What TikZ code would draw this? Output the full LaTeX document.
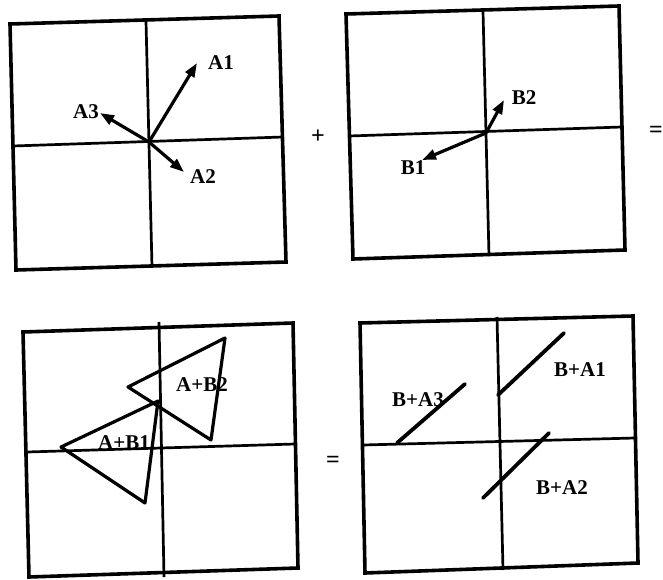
\documentclass[tikz,border=0pt]{standalone}
\usepackage{fontspec}
\setmainfont{Liberation Serif}
\usetikzlibrary{arrows.meta}

\begin{document}
\begin{tikzpicture}[x=1pt, y=-1pt,
            frame/.style={line width=3.6pt, line join=miter},
            axis/.style={line width=2.7pt},
            vec/.style={-{Triangle[length=14pt,width=10pt]}, line width=3.2pt},
            seg/.style={line width=3.8pt, line cap=round},
            tri/.style={line width=3.2pt, line join=round},
            lbl/.style={font=\fontsize{21}{23}\selectfont\bfseries, inner sep=0pt},
            op/.style={font=\fontsize{24}{26}\selectfont\bfseries, inner sep=0pt}
        ]
            \useasboundingbox (0,0) rectangle (663,580);

            % Vectors A (top left)
            \draw[frame] (10,24) -- (279,16) -- (286,262) -- (16,270) -- cycle;
            \draw[axis] (146,21) -- (152,267);
            \draw[axis] (13,146) -- (283,137);
            \coordinate (oa) at (149,142);
            \coordinate (a1) at (197,63);
            \coordinate (a2) at (184,172);
            \coordinate (a3) at (100,113);
            \draw[vec] (oa) -- (a1);
            \draw[vec] (oa) -- (a2);
            \draw[vec] (oa) -- (a3);
            \node[lbl] (la1) at (221,63) {A1};
            \node[lbl] (la2) at (203,177) {A2};
            \node[lbl] (la3) at (86,112) {A3};

            \node[op] (plus) at (318,137) {+};

            % Vectors B (top right)
            \draw[frame] (346,14) -- (619,6) -- (625,250) -- (353,259) -- cycle;
            \draw[axis] (483,11) -- (489,256);
            \draw[axis] (349,136) -- (622,127);
            \coordinate (ob) at (486,133);
            \coordinate (b1) at (422,160);
            \coordinate (b2) at (504,100);
            \draw[vec] (ob) -- (b1);
            \draw[vec] (ob) -- (b2);
            \node[lbl] (lb1) at (413,168) {B1};
            \node[lbl] (lb2) at (524,98) {B2};

            \node[op] (eqa) at (656,132) {=};

            % A shifted by B (bottom left)
            \draw[frame] (23,332) -- (293,323) -- (298,568) -- (29,577) -- cycle;
            \draw[axis] (159,322) -- (164,577);
            \draw[axis] (27,452) -- (295,444);
            \draw[tri] (61,447) -- (158,401) -- (145,503) -- cycle;
            \draw[tri] (128,387) -- (225,338) -- (211,440) -- cycle;
            \node[lbl] (lab1) at (124,443) {A+B1};
            \node[lbl] (lab2) at (202,385) {A+B2};

            \node[op] (eqb) at (333,462) {=};

            % B shifted by A (bottom right)
            \draw[frame] (360,323) -- (633,316) -- (638,563) -- (365,573) -- cycle;
            \draw[axis] (497,317) -- (503,570);
            \draw[axis] (363,445) -- (635,438);
            \draw[seg] (498,395) -- (564,333);
            \draw[seg] (397,443) -- (465,384);
            \draw[seg] (483,498) -- (549,433);
            \node[lbl] (lba1) at (580,370) {B+A1};
            \node[lbl] (lba3) at (418,400) {B+A3};
            \node[lbl] (lba2) at (562,488) {B+A2};
        \end{tikzpicture}
\end{document}
